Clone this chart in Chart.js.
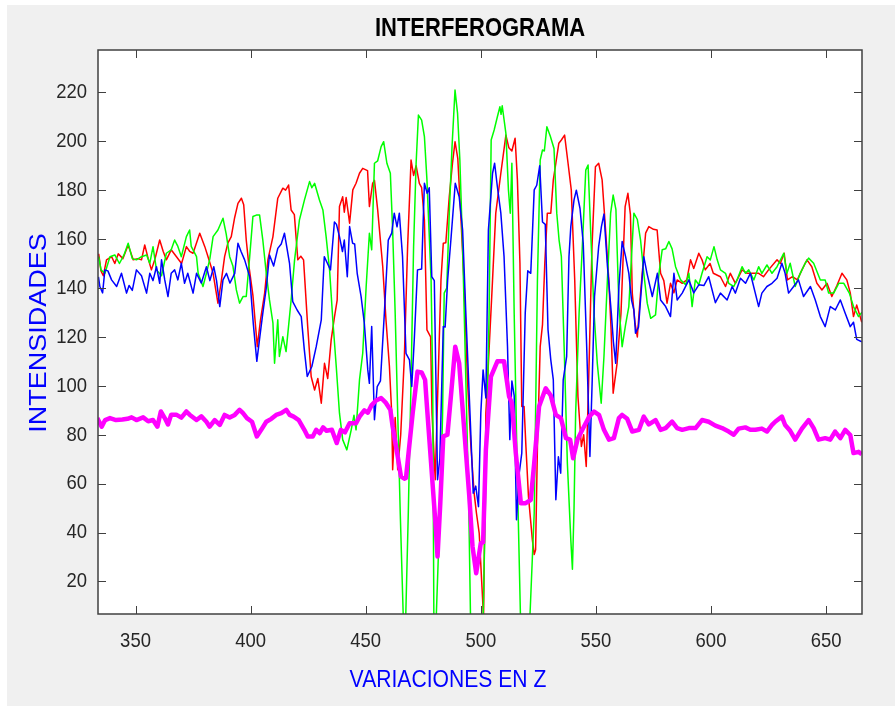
<!DOCTYPE html>
<html>
<head>
<meta charset="utf-8">
<title>INTERFEROGRAMA</title>
<script src="https://cdn.jsdelivr.net/npm/chart.js@4.4.1/dist/chart.umd.min.js"></script>
<style>
  html,body{margin:0;padding:0;background:#fff;}
  #grafico{display:block;}
</style>
</head>
<body>
<canvas id="grafico" width="895" height="706"></canvas>
<script>
const X_TICKS = [350, 400, 450, 500, 550, 600, 650];
const Y_TICKS = [20, 40, 60, 80, 100, 120, 140, 160, 180, 200, 220];
const X_RANGE = [333.7, 665.6];
const Y_RANGE = [6.7, 237.3];

const ROJO = [[334,154],[335,147],[336,145],[337.4,151.5],[339.6,152.8],[341,150],[342.5,154],[344.5,152],[346.8,157.6],[349,151.5],[351,152],[352.6,151.5],[354,157.6],[355.5,152],[356.9,147.4],[358.5,152],[360.5,159.6],[362,155],[363.4,151.5],[365.5,155.6],[367.8,152.8],[370,150],[372.1,156.9],[373.5,155],[375,154.2],[377.9,162.4],[380.1,156.9],[381.5,152.8],[383.7,146],[385.8,133.8],[387.3,143],[388.7,152.8],[390.1,158.3],[391.6,161],[393,168.5],[394.5,174.6],[396,176.7],[397,174],[398.1,159.6],[399.3,148.7],[401,137],[402.9,116],[404.3,127],[406.1,137.9],[407.5,151.5],[409.7,161],[411.8,176.7],[414,180.8],[415.2,180],[416.5,182.1],[417.6,171.9],[419,170],[420.5,151.5],[421.8,153],[423,151.5],[424.8,124.2],[426.3,103.8],[427.8,98.3],[429.2,103],[430.7,92.9],[432.1,109.2],[433.5,103],[435,118.8],[436.4,128],[437.6,135],[438.6,173.3],[440,177.3],[440.7,171],[441.5,177],[443,166.5],[444.4,180.1],[445.8,182.8],[447.3,186.9],[448.7,188.9],[450.8,188],[451.6,173.3],[453,182.8],[453.8,184],[455.2,171.9],[457.4,148.7],[458.8,127],[460.3,107.9],[461.3,88.8],[461.7,65.7],[462.8,87],[463.9,65.7],[465.2,80],[466.8,112],[468.2,156.9],[469.7,192.3],[470.8,186],[471.9,190],[473.3,182.8],[474.3,181],[475.5,167.8],[476.6,122.9],[478.2,120],[478.8,88.8],[480.2,61.6],[482.7,143.3],[483.7,158.3],[484.8,158.5],[486.3,177.3],[487.7,191],[488.8,199.8],[490,193],[491.4,167.8],[492.8,140.6],[494.2,102.4],[495.7,75.2],[497.1,56.1],[498.1,48],[499.3,39.8],[500.5,17.9],[501.2,5],[502.2,88.8],[503.3,109.2],[505.1,143.3],[506.5,170.6],[508.7,186.9],[510.9,202.5],[512.2,197.3],[513.5,196],[514.9,201.2],[515.9,184.2],[517,150.1],[517.8,91.5],[518.8,91.5],[519.6,75.2],[520.7,54.8],[522.4,37],[523.2,31],[523.8,33],[524.6,75.2],[525.8,116],[526.8,125],[527.8,150.1],[528.9,170.6],[530.4,170.6],[531.5,184.2],[532.6,191],[533.9,199.2],[535,200.5],[536.4,202.5],[537.9,191],[539.3,180.1],[540.8,143.3],[542.2,95.6],[543.7,75.2],[544.7,80],[545.8,67],[546.8,100],[548.3,156.9],[549.8,189.6],[551.2,191],[552.7,184.2],[554.2,163.7],[555.6,143.3],[556.6,122.9],[557.5,97],[559.2,109.2],[560.9,129.7],[562.7,173.3],[563.9,178.7],[565,170],[565.8,137.9],[567,125.6],[568,120],[569.4,137.9],[571.6,162.4],[573,165.1],[575,164],[576.6,163.7],[578.1,146],[579.5,143],[580.9,133.8],[582.4,141.9],[583.9,138],[585.3,143.3],[587.5,141.9],[589.5,143.3],[591.1,151.5],[592.5,148],[594.7,154.2],[596.1,151.5],[597.5,147.4],[599.6,150],[601,146],[604.1,144.6],[606.3,140.6],[608.4,146],[610.6,141.9],[613.5,147.4],[615.7,146],[617.8,146],[620.7,146],[622.8,144.6],[625,147.4],[628.7,151.5],[630.1,150],[631.8,154.2],[633.2,143.3],[635.4,144.6],[637.5,143.3],[639.5,147.4],[641.7,151.5],[643.8,148.7],[646,141.9],[648.2,139.2],[650.4,141.9],[652.5,136.5],[654.7,141],[656.9,146],[659,143.3],[660.5,138],[661.9,128.3],[663.3,133],[665.5,126]];

const VERDE = [[334,152.8],[335,147.4],[336.7,146],[338.9,152.8],[341,153.5],[343,150],[345,153.5],[346.8,158.3],[348.6,152],[350.4,151.5],[352.6,152.8],[354.8,153.5],[356.2,150.1],[357.6,156.9],[359.1,147.4],[361.3,145],[363.4,154.2],[365.5,155.6],[367,159.6],[368.4,157],[369.9,152.8],[372.1,161],[373.5,163.7],[374.2,157],[376.5,152.8],[377.2,146],[379.3,140.6],[380.8,146],[382.3,152],[383.7,161],[385.8,163.7],[388,168.5],[389.4,162],[390.9,152.8],[392.3,149],[393.8,139.2],[395.2,133.8],[396.7,136.5],[398.1,136.5],[399.6,152.8],[401,169.2],[402.5,169.8],[403.9,169.8],[405.3,159.6],[406.8,146],[408.2,135.1],[409.7,125.6],[410.4,109.2],[411.8,127],[412.5,112],[414,120.1],[415.4,114],[417.6,135.1],[419.1,151.5],[421.2,167.8],[423.4,176],[425.6,183.5],[426.6,181],[427.8,182.8],[429.9,176],[431.4,171.9],[432.8,161],[434.3,147.4],[435.7,127],[437.2,107.9],[438.6,88.8],[440,78],[441.8,73.8],[443.7,82],[444.9,88],[445.8,82],[447.3,102.4],[448.7,113.3],[450.2,140.6],[451.6,162.4],[452.6,155.6],[453.8,191],[455.2,192],[456.7,197.8],[457.8,199.8],[459.2,191],[460.7,186.9],[461.7,163.7],[462.8,129.7],[463.9,88.8],[465,48],[466.3,6],[466.8,-5],[467.4,6],[468.5,48],[469.7,102.4],[470.8,156.9],[471.9,191],[472.9,210.7],[474.3,208.6],[475.5,201.9],[476.6,184.2],[478.4,143.3],[479.1,102],[479.6,7],[480.1,-5],[480.7,7],[482.7,61.6],[483.4,88.8],[484.1,137.9],[485.2,140],[486.3,170.6],[487.5,197.8],[488.8,220.9],[489.9,211.4],[490.9,192.3],[492.1,156.9],[493.5,102.4],[494.7,54.8],[495.5,7],[498,-20],[501,5],[502.5,75.2],[503.6,129.7],[504.5,200.5],[505.8,204.6],[507.2,210],[508.3,214.1],[508.8,211],[509.3,214.5],[510.9,203.2],[512,180.1],[512.8,170.6],[513.5,191],[514.5,129.7],[515.9,61.6],[517.2,7],[519.3,-10],[521.4,7],[523.2,48],[524.6,143.3],[525.8,192.3],[526.8,196.4],[527.6,196],[528.7,205.9],[530.2,202],[531.8,197],[533,170.6],[534,159.6],[535,152.8],[536.2,116],[537.6,68.4],[539.1,37],[539.8,25],[540.5,50],[541.2,88.8],[542.7,129.7],[544.1,156.9],[545.6,188.2],[546.6,190.3],[547.7,163.7],[549.2,129.7],[550.6,109.2],[552.3,92.9],[553.5,112],[555,143.3],[556.4,170.6],[557.5,178],[558.7,172],[560,132.4],[561.4,116],[562.9,125],[564.3,132.4],[566.5,170.6],[568,168],[569.4,159.6],[570.8,146],[572.3,133.8],[573.8,127.6],[575.9,129],[577.4,146],[578.8,155.6],[580.3,156],[581.7,159],[583.1,156],[584.6,148.7],[586.8,143.3],[589,141.3],[590.4,146],[591.8,132.4],[593.2,143.3],[594.7,141.3],[596.1,146],[598.3,152.8],[599.7,151.5],[601.3,156.9],[602.7,151.5],[604.1,147.4],[606.3,146],[607.7,141.9],[609.9,140.6],[611.3,143.3],[613.5,148.7],[615,146],[616.4,147.4],[618.6,143.3],[620.7,148.7],[622.1,146],[624.3,149.4],[626.5,146],[628.7,148.7],[631.6,154.2],[633,146],[634.4,150.1],[636.6,140.6],[638.8,146],[640.9,150.1],[642.4,152.2],[644.6,150.1],[647.5,143.3],[649.6,143.3],[651.1,137.9],[653.3,137.9],[655.5,141.9],[657.7,141.9],[660.1,137.9],[661.9,132.4],[664.1,128.3],[665.5,130]];

const AZUL = [[333.9,144.5],[334.5,140.6],[335.7,138],[336.7,147.4],[338,147],[339.6,143.3],[341.8,140.6],[343.9,146],[346.1,137.9],[347.2,141],[348.6,139],[350.4,147.4],[352.6,145],[354.8,137.9],[356.2,146],[357.6,143],[359.1,148.7],[360.5,141.9],[361.3,151.5],[362.7,143.3],[364.1,136.5],[365.5,146],[367,147.4],[368.4,143.3],[369.9,150.1],[371.3,141.9],[372.7,146],[375,137.9],[376.5,146],[378.6,142],[380.8,148.7],[382.3,143],[384,148.7],[385.2,143],[386.6,132.4],[388,143.3],[389.5,146],[391,142],[393.1,146],[394.5,158.3],[395.8,155],[397.4,151.5],[399.6,144.6],[401.2,125],[402.7,110],[404,120],[405.3,129.7],[406.8,140],[408.2,153.5],[410,149],[411.8,156.2],[413.3,158],[414.7,162.4],[416.9,150.1],[418.3,134.4],[420.2,131],[422,128.3],[423.3,115],[424.6,103.8],[426.6,107.9],[428.5,116],[430.7,127],[432,152.8],[433.4,150],[434.7,147.4],[436.4,167],[437.3,166],[438.6,161],[439.9,154.9],[440.7,159.6],[442,144.6],[443,165.1],[444.3,158.3],[445.2,158],[446.3,146],[448,136.5],[449.4,125.6],[450.9,106.5],[451.6,101],[452.6,124.2],[453.8,86.1],[455,99.7],[456.4,102],[458.1,129.7],[459.8,159.6],[461.3,162.4],[462.4,170.6],[463.6,165],[464.6,170.6],[466,152.8],[467.5,113.3],[469,110.6],[470,99.7],[471.1,118.8],[472.5,147.4],[474.3,147.8],[475.5,182.8],[476.7,178.7],[477.6,181],[478.7,144.6],[479.8,143],[481.2,61.6],[482.2,70],[483.7,124.2],[484.5,124],[485.6,143.3],[487,159.6],[488.9,182.8],[490.6,177.3],[492.1,163.7],[493.5,129.7],[495.3,88.8],[496.7,56.1],[497.8,59],[499,50.6],[500,88.8],[501,106.5],[502.2,95],[503.3,163.7],[505.1,186.9],[506,191],[507.2,181.4],[508.7,170.6],[510.1,152.8],[511.6,116],[512.6,78],[513.5,102],[514.5,96],[515.5,45.2],[516.7,64.3],[517.8,72.5],[519.3,129.7],[520.4,147],[521.7,146],[523.2,180.1],[524.3,182],[525.6,190],[526.8,167],[528,166],[529.2,122.9],[530.4,110.6],[531.5,102.4],[532.6,53.4],[533.7,71],[534.7,64.3],[535.8,102.4],[537.3,112],[538.3,152.8],[539.1,165.1],[540.5,176],[541.5,180],[543.1,172.5],[544.5,158.3],[546,116],[547.4,71.1],[548.4,102.4],[549.4,136.5],[551.2,156.9],[552.4,165.1],[553.5,170.2],[555,149],[556.7,129.7],[557.6,118],[558.6,109.2],[559.4,127],[560,140.6],[561.4,159],[562.9,152.8],[564.3,146],[565.5,135],[566.5,131],[567.2,121.5],[568.5,124],[570.8,152.8],[572.2,146],[574.5,136.5],[576.7,146],[578.1,135.1],[580.3,132.4],[582.4,128.3],[583.9,146],[585.3,135.1],[587.5,137.9],[590.4,143.3],[592.5,138],[594.7,141.3],[596.9,141],[599,144.6],[601.9,134],[604.1,137.9],[607,135.1],[609.2,140.6],[610.6,137.9],[612.8,144],[615,141.9],[617.1,146],[620.7,132.4],[622.1,137.9],[624.3,140.6],[626.5,141.9],[628.7,144],[630.8,150.1],[632.2,146],[633.7,137.9],[635.9,140.6],[638,143.3],[640.2,136.5],[643.2,140.6],[645.3,135.1],[647.5,128.3],[649.6,124.2],[651.8,132.4],[654,131],[656.2,135.1],[658.3,129.7],[660.5,124.2],[661.9,126],[663.3,119],[665.5,118]];

const MAGENTA = [[333.4,86.8],[335.3,83.3],[336.8,86],[338.9,86.8],[341.5,86],[344.3,86.2],[346.5,86.5],[348.3,87.1],[350.4,86],[353.3,87.1],[355.5,85.5],[357.6,86],[359.5,83.3],[361,89.5],[362.7,86.8],[364.1,84.2],[365.5,88.2],[367.7,88.2],[369.9,87],[372.1,89.5],[373.5,88.2],[376.5,86],[378.6,87.5],[380.8,85.3],[382.2,83.3],[384.4,86],[386.6,84],[388.7,88.1],[390.9,87],[393.1,88.1],[395.2,90.2],[396.7,88.8],[398.4,86.8],[400.6,85.3],[402.7,79.3],[404.6,82],[406.8,85.3],[409,86.5],[411.1,88.1],[413.3,88.8],[415.5,90.2],[417,88.1],[418.7,87.4],[420.9,86],[423.4,81.9],[424.8,79.3],[427,79.3],[428.5,82],[430,80.6],[431.5,83],[433,81.6],[435.3,82],[437.4,76.6],[439.2,82],[441,81],[443,84.7],[445.8,84.7],[447.3,87.4],[449.4,90],[450.9,89],[452.5,92],[454.5,94],[456.7,95],[458.8,93],[460.7,90.2],[461.7,83.3],[463.9,71.1],[465.3,63],[466.8,62],[467.5,62.3],[468.9,75.2],[470.4,88.8],[472.5,105.8],[474.3,105.5],[475.8,102.4],[476.5,92.9],[478.4,68.4],[480.5,41.1],[481.2,30.2],[482.4,52],[483.7,79.3],[485.5,80],[487,95.6],[488.9,116],[490.6,109.2],[492.8,82],[495,54.8],[496.4,34.3],[498,23.4],[500,35.7],[501,36],[502.2,73.8],[504.4,103.8],[507.2,110],[510.1,110],[512.3,95.6],[513.5,93],[515.2,72.5],[517.4,52],[519.5,52],[521.7,53.4],[523.2,68.4],[525.3,91.5],[528.2,99],[530.4,96],[532.6,88.1],[534.8,86.8],[537,78.6],[538.8,78],[540.1,70.4],[542,78],[544.1,82],[547.1,87.4],[549.2,89.5],[551.4,88],[553.5,82],[555.7,78],[557.8,78.6],[560,86.8],[561.4,88.1],[563.6,86.5],[565.8,81.3],[568.7,82],[570.8,87.4],[573,84.2],[575.9,86],[578.1,82],[580.3,82.7],[583.1,85.4],[585.3,82.7],[587.5,82],[590.4,82.7],[593.3,82.7],[596.1,86],[599,85.3],[601.9,83.7],[604.8,82.7],[607.7,81.3],[609.9,80],[612,82.5],[614.9,83],[617.1,82],[619.3,82],[622.1,82.5],[624.3,81.3],[626.5,84],[628,85.4],[630.8,87.4],[632.2,84],[634.4,81.6],[636.6,78],[639.5,82.5],[642.4,86],[644.6,82.7],[646.7,78],[649.6,78.6],[651.8,78],[653.9,81.3],[656.2,78.6],[658.3,82],[660.5,79.9],[661.9,72.5],[664.1,73],[665.5,72]];

// estilo tipo figura de MATLAB
const FONT = '"Liberation Sans", Arial, sans-serif';
const SQUEEZE = 0.88; // la figura original esta algo comprimida en horizontal
const AXIS_COLOR = '#404040';

function texto(ctx, txt, x, y, {font, color='#262626', align='center', baseline='middle', rot=0}={}){
  ctx.save();
  ctx.translate(x, y);
  ctx.scale(SQUEEZE, 1);
  if(rot) ctx.rotate(rot);
  ctx.font = font; ctx.fillStyle = color;
  ctx.textAlign = align; ctx.textBaseline = baseline;
  ctx.fillText(txt, 0, 0);
  ctx.restore();
}

const figuraPlugin = {
  id: 'figura',
  beforeDraw(chart){
    const {ctx, chartArea: a} = chart;
    ctx.save();
    ctx.fillStyle = '#ffffff'; ctx.fillRect(0, 0, chart.width, chart.height);
    ctx.fillStyle = '#f0f0f0'; ctx.fillRect(7, 5, chart.width - 7, chart.height - 5);
    ctx.fillStyle = '#ffffff'; ctx.fillRect(a.left, a.top, a.right - a.left, a.bottom - a.top);
    ctx.restore();
  },
  afterDraw(chart){
    const {ctx, chartArea: a} = chart;
    const xs = chart.scales.x, ys = chart.scales.y;
    const tl = 8;
    ctx.save();
    ctx.strokeStyle = AXIS_COLOR; ctx.lineWidth = 1.5;
    ctx.strokeRect(a.left, a.top, a.right - a.left, a.bottom - a.top);
    ctx.lineWidth = 1;
    ctx.beginPath();
    X_TICKS.forEach(v=>{
      const px = Math.round(xs.getPixelForValue(v)) + 0.5;
      ctx.moveTo(px, a.bottom); ctx.lineTo(px, a.bottom - tl);
      ctx.moveTo(px, a.top); ctx.lineTo(px, a.top + tl);
    });
    Y_TICKS.forEach(v=>{
      const py = Math.round(ys.getPixelForValue(v)) + 0.5;
      ctx.moveTo(a.left, py); ctx.lineTo(a.left + tl, py);
      ctx.moveTo(a.right, py); ctx.lineTo(a.right - tl, py);
    });
    ctx.stroke();
    ctx.restore();

    const fTick = '21px ' + FONT;
    X_TICKS.forEach(v=> texto(ctx, String(v), xs.getPixelForValue(v), a.bottom + 27, {font: fTick}));
    Y_TICKS.forEach(v=> texto(ctx, String(v), a.left - 11, ys.getPixelForValue(v), {font: fTick, align: 'right'}));

    texto(ctx, 'INTERFEROGRAMA', 480, 29, {font: 'bold 25px ' + FONT, color: '#000000'});
    texto(ctx, 'VARIACIONES EN Z', 448, 680, {font: '24px ' + FONT, color: '#0000ff'});
    texto(ctx, 'INTENSIDADES', 39, 333, {font: '27px ' + FONT, color: '#0000ff', rot: -Math.PI/2});
  }
};

function serie(pares, color, ancho){
  return {
    data: pares.map(([x, y]) => ({x, y})),
    borderColor: color, borderWidth: ancho,
    pointRadius: 0, tension: 0, fill: false, clip: 0,
    borderJoinStyle: 'round'
  };
}

new Chart(document.getElementById('grafico').getContext('2d'), {
  type: 'line',
  data: {
    datasets: [
      serie(MAGENTA, '#ff00ff', 4.5),
      serie(AZUL, '#0000ff', 1.5),
      serie(VERDE, '#00ff00', 1.5),
      serie(ROJO, '#ff0000', 1.5)
    ]
  },
  options: {
    responsive: false,
    animation: false,
    parsing: false,
    normalized: true,
    layout: { padding: { left: 98, top: 50, right: 33, bottom: 92 } },
    plugins: { legend: { display: false }, tooltip: { enabled: false }, title: { display: false } },
    scales: {
      x: { type: 'linear', display: false, min: X_RANGE[0], max: X_RANGE[1] },
      y: { type: 'linear', display: false, min: Y_RANGE[0], max: Y_RANGE[1] }
    }
  },
  plugins: [figuraPlugin]
});
</script>
</body>
</html>
